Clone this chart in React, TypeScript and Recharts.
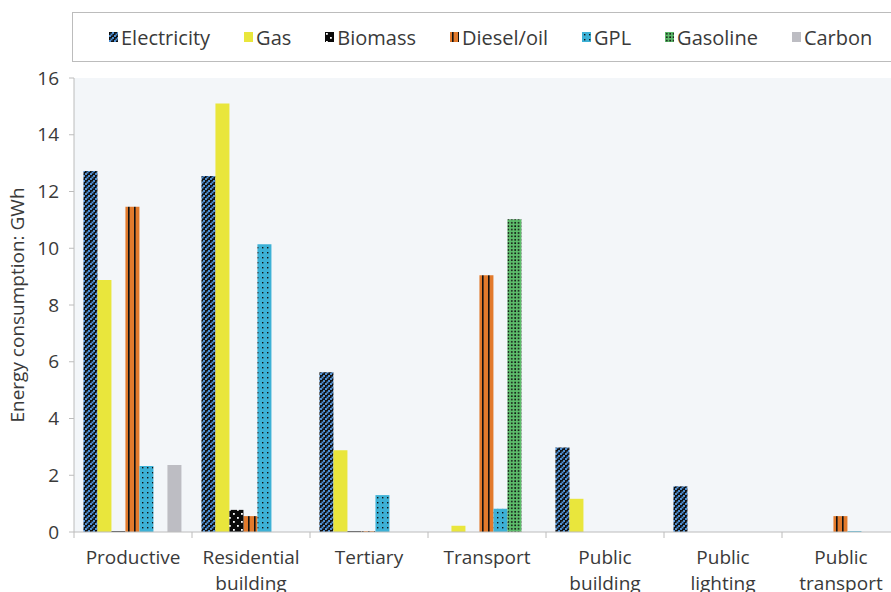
import React from 'react';
import { BarChart, Bar, XAxis, YAxis, CartesianGrid } from 'recharts';

const categories = [
  'Productive',
  'Residential building',
  'Tertiary',
  'Transport',
  'Public building',
  'Public lighting',
  'Public transport',
];

const electricity = [12.72, 12.55, 5.63, 0, 2.98, 1.61, 0];
const gas = [8.88, 15.1, 2.88, 0.22, 1.17, 0, 0];
const biomass = [0.03, 0.78, 0.03, 0, 0, 0, 0];
const diesel = [11.46, 0.56, 0.03, 9.05, 0, 0, 0.56];
const gpl = [2.33, 10.14, 1.3, 0.82, 0, 0, 0.03];
const gasoline = [0, 0, 0, 11.02, 0, 0, 0];
const carbon = [2.36, 0, 0, 0, 0, 0, 0];

const yTicks = [0, 2, 4, 6, 8, 10, 12, 14, 16];

const SERIES = [
  { key: 'electricity', name: 'Electricity', fill: 'url(#pat-elec)' },
  { key: 'gas', name: 'Gas', fill: '#e9e63c' },
  { key: 'biomass', name: 'Biomass', fill: 'url(#pat-bio)' },
  { key: 'diesel', name: 'Diesel/oil', fill: 'url(#pat-diesel)' },
  { key: 'gpl', name: 'GPL', fill: 'url(#pat-gpl)' },
  { key: 'gasoline', name: 'Gasoline', fill: 'url(#pat-gasoline)' },
  { key: 'carbon', name: 'Carbon', fill: '#bdbdc3' },
];

const data = categories.map((category, i) => ({
  category,
  electricity: electricity[i],
  gas: gas[i],
  biomass: biomass[i],
  diesel: diesel[i],
  gpl: gpl[i],
  gasoline: gasoline[i],
  carbon: carbon[i],
}));

const FONT = '"Open Sans", "Noto Sans", sans-serif';
const TEXT = '#3a3a3a';
const AXIS = '#bcbcbc';

const CHART_W = 900;
const CHART_H = 592;
const PLOT_LEFT = 74;
const PLOT_TOP = 78;
const X_AXIS_H = 60;
const BAND = (CHART_W - PLOT_LEFT) / categories.length;

// svg patterns shared by bars and the legend swatches
const Patterns = () => (
  <defs>
    <pattern id="pat-elec" width="5" height="5" patternUnits="userSpaceOnUse">
      <rect width="5" height="5" fill="#111" />
      <rect x="0" y="3" width="2" height="2" fill="#4f8fd2" />
      <rect x="1.5" y="1.5" width="2" height="2" fill="#4f8fd2" />
      <rect x="3" y="0" width="2" height="2" fill="#4f8fd2" />
    </pattern>
    <pattern id="pat-bio" width="8" height="8" patternUnits="userSpaceOnUse">
      <rect width="8" height="8" fill="#0a0a0a" />
      <rect x="1" y="1" width="1.8" height="1.8" fill="#fff" />
      <rect x="5" y="5" width="1.8" height="1.8" fill="#fff" />
    </pattern>
    <pattern id="pat-diesel" width="6" height="6" patternUnits="userSpaceOnUse">
      <rect width="6" height="6" fill="#e27a2c" />
      <rect x="2" y="0" width="1.6" height="6" fill="#111" />
    </pattern>
    <pattern id="pat-gpl" width="5" height="5" patternUnits="userSpaceOnUse">
      <rect width="5" height="5" fill="#3db1d6" />
      <rect x="2" y="2" width="1.4" height="1.4" fill="#111" />
    </pattern>
    <pattern id="pat-gasoline" width="3.4" height="3.4" patternUnits="userSpaceOnUse">
      <rect width="3.4" height="3.4" fill="#5dbd6b" />
      <rect x="1" y="1" width="1.6" height="1.6" fill="#111" />
    </pattern>
  </defs>
);

const CategoryTick = ({ x, y, payload }: any) => {
  const lines = String(payload.value).split(' ');
  const bx = x - BAND / 2;
  return (
    <g>
      <line x1={bx} x2={bx} y1={y} y2={y + 6} stroke={AXIS} />
      <text x={x} y={y} textAnchor="middle" fill={TEXT} fontSize={19} fontFamily={FONT}>
        {lines.map((line, i) => (
          <tspan key={i} x={x} dy={i === 0 ? 32 : 26}>
            {line}
          </tspan>
        ))}
      </text>
    </g>
  );
};

const YLabel = () => {
  const cy = PLOT_TOP + (CHART_H - X_AXIS_H - PLOT_TOP) / 2;
  return (
    <text
      x={24}
      y={cy}
      transform={`rotate(-90, 24, ${cy})`}
      textAnchor="middle"
      fill={TEXT}
      fontSize={19}
      fontFamily={FONT}
    >
      Energy consumption: GWh
    </text>
  );
};

const LegendBox = () => (
  <div
    style={{
      position: 'absolute',
      left: 72,
      top: 12,
      width: 840,
      height: 50,
      border: `1px solid ${AXIS}`,
      background: '#fff',
      display: 'flex',
      alignItems: 'center',
      paddingLeft: 36,
      gap: 34,
      fontFamily: FONT,
      fontSize: 20,
      color: TEXT,
      boxSizing: 'border-box',
    }}
  >
    {SERIES.map((s) => (
      <div key={s.key} style={{ display: 'flex', alignItems: 'center', gap: 3 }}>
        <svg width={9} height={10}>
          <rect width={9} height={10} fill={s.fill} />
        </svg>
        <span>{s.name}</span>
      </div>
    ))}
  </div>
);

export default function App() {
  return (
    <div
      style={{
        position: 'absolute',
        left: 0,
        top: 0,
        width: 891,
        height: 592,
        overflow: 'hidden',
        background: '#fff',
      }}
    >
      <BarChart
        width={CHART_W}
        height={CHART_H}
        data={data}
        margin={{ top: PLOT_TOP, right: 0, bottom: 0, left: 0 }}
        barCategoryGap="8%"
        barGap={0}
      >
        <Patterns />
        <CartesianGrid horizontal={false} vertical={false} fill="#f3f6f9" />
        <XAxis
          dataKey="category"
          height={X_AXIS_H}
          stroke={AXIS}
          tickLine={false}
          tickSize={0}
          tickMargin={0}
          interval={0}
          tick={<CategoryTick />}
        />
        <YAxis
          width={PLOT_LEFT}
          domain={[0, 16]}
          ticks={yTicks}
          stroke={AXIS}
          tickSize={5}
          tickMargin={10}
          tick={{ fill: TEXT, fontSize: 19, fontFamily: FONT }}
          label={<YLabel />}
        />
        {SERIES.map((s) => (
          <Bar key={s.key} dataKey={s.key} name={s.name} fill={s.fill} isAnimationActive={false} />
        ))}
      </BarChart>
      <LegendBox />
    </div>
  );
}
